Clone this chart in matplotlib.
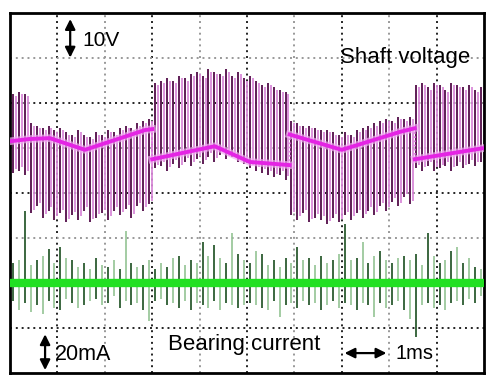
import numpy as np
import matplotlib
matplotlib.use("Agg")
import matplotlib.pyplot as plt

# time axis: 10 divisions of 1 ms, vertical axis: 8 divisions
n_spikes = 80
spike_t = (np.arange(n_spikes) + 0.5) * 10 / n_spikes

# shaft voltage: top and bottom of each switching spike (divisions)
shaft_top = [6.2, 6.25, 6.2,
             5.55, 5.5, 5.45, 5.5, 5.4, 5.45, 5.35, 5.3, 5.4, 5.3, 5.25,
             5.35, 5.3, 5.4, 5.35, 5.45, 5.5, 5.45, 5.55, 5.6, 5.65,
             6.45, 6.5, 6.55, 6.5, 6.6, 6.55, 6.65, 6.7, 6.6, 6.75, 6.7,
             6.65, 6.75, 6.6, 6.7, 6.55, 6.6, 6.5, 6.4, 6.45, 6.35, 6.3, 6.25,
             5.6, 5.55, 5.5, 5.5, 5.45, 5.4, 5.4, 5.35, 5.3, 5.35, 5.3,
             5.4, 5.45, 5.5, 5.55, 5.6, 5.65, 5.6, 5.7, 5.65, 5.7,
             6.4, 6.45, 6.35, 6.45, 6.4, 6.3, 6.45, 6.4, 6.35, 6.4, 6.3, 6.35]
shaft_bot = [4.45, 4.5, 4.4,
             3.55, 3.7, 3.45, 3.6, 3.4, 3.55, 3.35, 3.5, 3.4, 3.6, 3.35,
             3.45, 3.55, 3.4, 3.6, 3.5, 3.65, 3.45, 3.7, 3.6, 3.75,
             4.55, 4.6, 4.5, 4.65, 4.55, 4.7, 4.6, 4.75, 4.65, 4.8, 4.7,
             4.85, 4.75, 4.8, 4.7, 4.65, 4.55, 4.5, 4.45, 4.4, 4.35, 4.4, 4.3,
             3.5, 3.4, 3.55, 3.35, 3.45, 3.4, 3.3, 3.45, 3.35, 3.5, 3.4,
             3.55, 3.45, 3.6, 3.5, 3.7, 3.6, 3.8, 3.7, 3.9, 3.75,
             4.55, 4.5, 4.6, 4.5, 4.55, 4.6, 4.5, 4.6, 4.55, 4.65, 4.6, 4.7]

# shaft voltage mean level (breakpoints, a repeated time marks a step)
center_t = [0.0, 0.4, 0.84, 1.58, 2.85, 3.0, 3.0, 4.32, 5.06, 5.9, 5.9,
            7.0, 8.23, 8.54, 8.54, 10.0]
center_v = [5.15, 5.2, 5.22, 4.96, 5.4, 5.42, 4.75, 5.04, 4.69, 4.62, 5.3,
            4.96, 5.36, 5.44, 4.75, 5.0]

# bearing current: baseline and spike excursions (divisions)
current_base = 2.0
current_up = [0.45, 0.5, 1.6, 0.4, 0.5, 0.6, 0.75, 0.45, 0.8, 0.55,
              0.5, 0.35, 0.45, 0.3, 0.55, 0.4, 0.35, 0.5, 0.3, 1.15,
              0.45, 0.35, 0.4, 0.5, 0.3, 0.45, 0.35, 0.55, 0.6, 0.4,
              0.5, 0.45, 0.9, 0.6, 0.85, 0.55, 0.45, 1.1, 0.65, 0.5,
              0.45, 0.7, 0.65, 0.4, 0.5, 0.35, 0.55, 0.45, 0.8, 0.5,
              0.55, 0.4, 0.6, 0.45, 0.5, 0.65, 1.3, 0.5, 0.55, 0.9,
              0.45, 0.6, 0.7, 0.5, 0.45, 0.55, 0.6, 0.5, 0.65, 0.4,
              1.1, 0.6, 0.45, 0.5, 0.7, 0.8, 0.45, 0.55, 0.35, 0.3]
current_down = [0.4, 0.6, 0.45, 0.65, 0.5, 0.7, 0.4, 0.55, 0.6, 0.35,
                0.45, 0.55, 0.5, 0.4, 0.35, 0.5, 0.45, 0.3, 0.55, 0.4,
                0.5, 0.45, 0.6, 0.85, 0.4, 0.35, 0.5, 0.45, 0.55, 0.4,
                0.6, 0.45, 0.5, 0.55, 0.4, 0.6, 0.45, 0.5, 0.55, 0.5,
                0.45, 0.5, 0.55, 0.6, 0.4, 0.75, 0.5, 0.45, 0.55, 0.4,
                0.5, 0.45, 0.6, 0.5, 0.4, 0.55, 0.45, 0.5, 0.6, 0.45,
                0.5, 0.75, 0.45, 0.55, 0.5, 0.4, 0.6, 0.8, 1.2, 0.5,
                0.45, 0.55, 0.5, 0.6, 0.45, 0.4, 0.5, 0.35, 0.45, 0.3]

shaft_top = np.array(shaft_top)
shaft_bot = np.array(shaft_bot)
c_up = current_base + np.array(current_up)
c_dn = current_base - np.array(current_down)

fig = plt.figure(figsize=(5.0, 3.86), dpi=100)
ax = fig.add_axes([0.02, 0.034, 0.948, 0.932])
ax.set_xlim(0, 10)
ax.set_ylim(0, 8)
ax.set_xticks([])
ax.set_yticks([])
for s in ax.spines.values():
    s.set_linewidth(2)
    s.set_color("black")

# graticule
for i in range(1, 10):
    col = "#222222" if i % 2 else "#999999"
    ax.axvline(i, color=col, lw=1.4, ls=(0, (1, 2)), zorder=1)
for j in range(1, 8):
    col = "#222222" if j in (1, 4, 6) else "#999999"
    ax.axhline(j, color=col, lw=1.4, ls=(0, (1, 2)), zorder=1)

half = 5 / n_spikes

# shaft voltage trace
ax.vlines(spike_t + half, shaft_bot + 0.08, shaft_top - 0.05,
          colors="#d98ad9", lw=1.3, zorder=2)
ax.vlines(spike_t, shaft_bot, shaft_top, colors="#5e1c55", lw=1.4, zorder=3)

# mean level, drawn piece by piece between the steps
ct = np.array(center_t)
cv = np.array(center_v)
cuts = np.where(np.diff(ct) == 0)[0] + 1
for a, b in zip(np.r_[0, cuts], np.r_[cuts, len(ct)]):
    ax.plot(ct[a:b], cv[a:b], color="#f2a8f2", lw=5.5, zorder=4, alpha=0.7)
    ax.plot(ct[a:b], cv[a:b], color="#e424e4", lw=2.8, zorder=5)
for k in cuts:
    ax.plot(ct[k - 1:k + 1], cv[k - 1:k + 1], color="#e070e0", lw=1.2,
            ls=(0, (1, 1.5)), zorder=4)

# bearing current trace
dark = np.arange(n_spikes) % 2 == 0
ax.vlines(spike_t[~dark], c_dn[~dark], c_up[~dark], colors="#94c494",
          lw=1.2, zorder=2)
ax.vlines(spike_t[dark], c_dn[dark], c_up[dark], colors="#2c5c30",
          lw=1.3, zorder=3)
ax.axhline(current_base, color="#22e022", lw=6, zorder=5)

# annotations
txt = dict(family="Liberation Sans", color="black", va="center", zorder=6)
arr = dict(arrowstyle="<|-|>", color="black", lw=1.6, mutation_scale=15)
ax.annotate("", xy=(1.27, 7.93), xytext=(1.27, 6.95), arrowprops=arr, zorder=6)
ax.text(1.52, 7.4, "10V", fontsize=15, **txt)
ax.text(6.96, 7.02, "Shaft voltage", fontsize=16, **txt)
ax.annotate("", xy=(0.74, 0.92), xytext=(0.74, 0.0), arrowprops=arr, zorder=6)
ax.text(0.95, 0.4, "20mA", fontsize=15.5, **txt)
ax.text(3.33, 0.62, "Bearing current", fontsize=16, **txt)
ax.annotate("", xy=(7.0, 0.44), xytext=(8.0, 0.44), arrowprops=arr, zorder=6)
ax.text(8.14, 0.44, "1ms", fontsize=14.5, **txt)

fig.savefig("out.png", dpi=100, facecolor="white")
